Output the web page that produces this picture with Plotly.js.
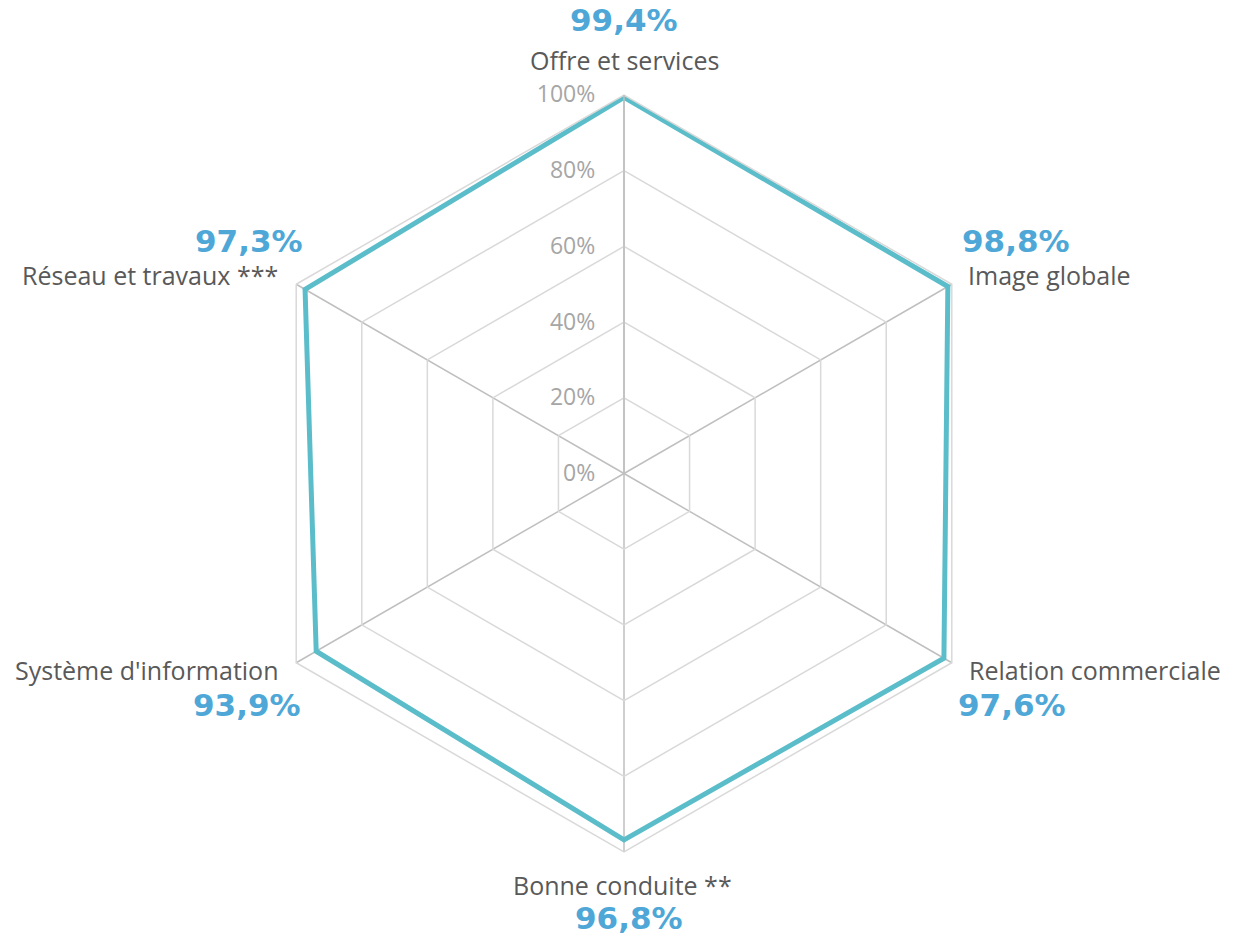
<!DOCTYPE html>
<html>
<head>
<meta charset="utf-8">
<script src="https://cdn.plot.ly/plotly-3.0.1.min.js"></script>
<style>html,body{margin:0;padding:0;background:#fff;}#chart{width:1239px;height:938px;}</style>
</head>
<body>
<div id="chart"></div>
<script>
const categories = ["Offre et services", "Image globale", "Relation commerciale", "Bonne conduite **", "Système d'information", "Réseau et travaux ***"];
const values = [99.4, 98.8, 97.6, 96.8, 93.9, 97.3];
const valueLabels = ["99,4%", "98,8%", "97,6%", "96,8%", "93,9%", "97,3%"];
const radialTicks = [0, 20, 40, 60, 80, 100];
const radialTickLabels = ["0%", "20%", "40%", "60%", "80%", "100%"];

const W = 1239, H = 938;
const NAME_FONT = "Open Sans, Noto Sans, sans-serif";
const VALUE_FONT = "DejaVu Sans, Verdana, sans-serif";
const NAME_COLOR = "#595959";
const VALUE_COLOR = "#4ea7d6";

// label placement (pixel anchors): [nameX, nameY, nameAnchor, valueX, valueY, valueAnchor]
const labelLayout = [
  [624, 60, "center", 624, 20, "center"],
  [966, 275, "left", 960, 241, "left"],
  [967, 670, "left", 956, 705, "left"],
  [622, 885, "center", 629, 918, "center"],
  [281, 670, "right", 303, 705, "right"],
  [280, 275, "right", 305, 241, "right"]
];

const annotations = [];
categories.forEach((c, i) => {
  const L = labelLayout[i];
  annotations.push({
    xref: "paper", yref: "paper", x: L[0] / W, y: 1 - L[1] / H,
    xanchor: L[2], yanchor: "middle", showarrow: false, text: c,
    font: {family: NAME_FONT, size: 25, color: NAME_COLOR}
  });
  annotations.push({
    xref: "paper", yref: "paper", x: L[3] / W, y: 1 - L[4] / H,
    xanchor: L[5], yanchor: "middle", showarrow: false, text: "<b>" + valueLabels[i] + "</b>",
    font: {family: VALUE_FONT, size: 31, color: VALUE_COLOR}
  });
});

const trace = {
  type: "scatterpolar",
  r: values.concat([values[0]]),
  theta: categories.concat([categories[0]]),
  mode: "lines",
  line: {color: "#5bbdc9", width: 5},
  hoverinfo: "skip"
};

const layout = {
  width: W, height: H,
  margin: {l: 0, r: 0, t: 0, b: 0},
  paper_bgcolor: "#fff",
  showlegend: false,
  annotations: annotations,
  polar: {
    domain: {x: [245.5 / W, 1002.5 / W], y: [86 / H, 843 / H]},
    bgcolor: "#fff",
    gridshape: "linear",
    angularaxis: {
      type: "category",
      categoryarray: categories,
      direction: "clockwise",
      rotation: 90,
      showticklabels: false,
      ticks: "",
      showline: true,
      linecolor: "#d9d9d9",
      linewidth: 1.5,
      showgrid: true,
      gridcolor: "#bfbfbf",
      gridwidth: 1.5
    },
    radialaxis: {
      range: [0, 100],
      angle: 90,
      tickmode: "array",
      tickvals: radialTicks,
      ticktext: radialTickLabels,
      tickangle: 90,
      ticks: "outside",
      ticklen: 20,
      tickcolor: "rgba(0,0,0,0)",
      showline: true,
      linecolor: "#bfbfbf",
      linewidth: 1.5,
      showgrid: true,
      gridcolor: "#d9d9d9",
      gridwidth: 1.5,
      tickfont: {family: NAME_FONT, size: 23, color: "#a6a6a6"},
      side: "counterclockwise"
    }
  }
};

Plotly.newPlot("chart", [trace], layout, {staticPlot: true});
</script>
</body>
</html>
